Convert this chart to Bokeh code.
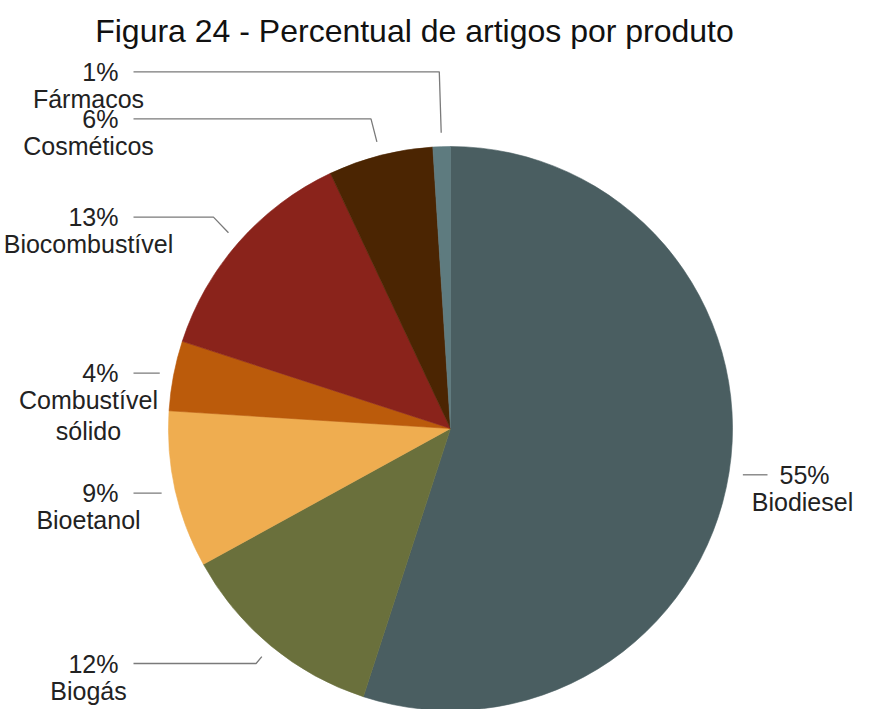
import numpy as np
from bokeh.plotting import figure
from bokeh.models import Range1d, ColumnDataSource, Label
from bokeh.core.properties import value
from bokeh.embed import file_html
from bokeh.resources import INLINE

# ---- data ----
categories = ["Biodiesel", "Biogás", "Bioetanol", "Combustível\nsólido",
              "Biocombustível", "Cosméticos", "Fármacos"]
percentages = [55, 12, 9, 4, 13, 6, 1]
colors = ["#4a5e61", "#6a703c", "#efad50", "#bb5b0b", "#8a231b", "#4b2502", "#5e7b7f"]
title_text = "Figura 24 - Percentual de artigos por produto"

# ---- layout ----
W, H = 854, 709
CX, CY, R = 450, 281, 282
FONT = "Liberation Sans"

p = figure(width=W, height=H, x_range=Range1d(0, W), y_range=Range1d(0, H),
           output_backend="svg", toolbar_location=None, min_border=0)
p.axis.visible = False
p.grid.visible = False
p.outline_line_color = None
p.background_fill_color = "white"

vals = np.array(percentages, dtype=float)
frac = vals / vals.sum()
cum = np.concatenate([[0.0], np.cumsum(frac)])
start = np.pi / 2 - 2 * np.pi * cum[:-1]
end = np.pi / 2 - 2 * np.pi * cum[1:]

wsrc = ColumnDataSource(dict(start=start, end=end, color=colors))
p.wedge(x=CX, y=CY, radius=R, start_angle="start", end_angle="end",
        direction="clock", fill_color="color", line_color="color",
        line_width=0.6, source=wsrc)

# ---- leader lines & labels ----
mid = 2 * np.pi * (cum[:-1] + frac / 2)
ux, uy = np.sin(mid), np.cos(mid)
sx, sy = CX + (R + 14) * ux, CY + (R + 14) * uy
side = np.where(ux >= 0, 1, -1)
ly = np.where(np.abs(uy) < 0.35, sy, CY + (sy - CY) * 1.08)
ly = np.maximum(ly, 46)  # keep the lowest label inside the canvas

GAP = 47
for s in (1, -1):
    idx = [i for i in np.argsort(ly) if side[i] == s]
    for a, b in zip(idx[:-1], idx[1:]):
        if ly[b] < ly[a] + GAP:
            ly[b] = ly[a] + GAP

xs, ys = [], []
px, palign, nx = [], [], []
for i in range(len(vals)):
    dy = abs(ly[i] - sy[i])
    dx = min(dy * abs(ux[i] / uy[i]) if abs(uy[i]) > 1e-6 else 0, 15)
    ex = sx[i] + side[i] * dx
    endx = CX + side[i] * (R + 35)
    xs.append([sx[i], ex, endx])
    ys.append([sy[i], ly[i], ly[i]])
    px.append(endx + side[i] * (12 if side[i] > 0 else 15))
    palign.append("left" if side[i] > 0 else "right")
    nx.append(CX + side[i] * (R + 70 if side[i] > 0 else R + 80))

p.multi_line(xs=xs, ys=ys, line_color="#7a7a7a", line_width=1.3)

pct_text = [f"{int(v)}%" for v in percentages]
lsrc = ColumnDataSource(dict(px=px, py=ly, pt=pct_text, pa=palign,
                             nx=nx, ny=ly - 13, nt=categories))
p.text(x="px", y="py", text="pt", text_align="pa", text_baseline="middle",
       text_font=value(FONT), text_font_size="25px", text_color="#222222",
       source=lsrc)
p.text(x="nx", y="ny", text="nt", text_align="center", text_baseline="top",
       text_font=value(FONT), text_font_size="25px", text_color="#222222",
       text_line_height=1.1, source=lsrc)

p.add_layout(Label(x=414, y=679, text=title_text, text_align="center",
                   text_baseline="middle", text_font=FONT,
                   text_font_size="32px", text_color="#111111"))

open("out.html", "w").write(file_html(p, INLINE))
